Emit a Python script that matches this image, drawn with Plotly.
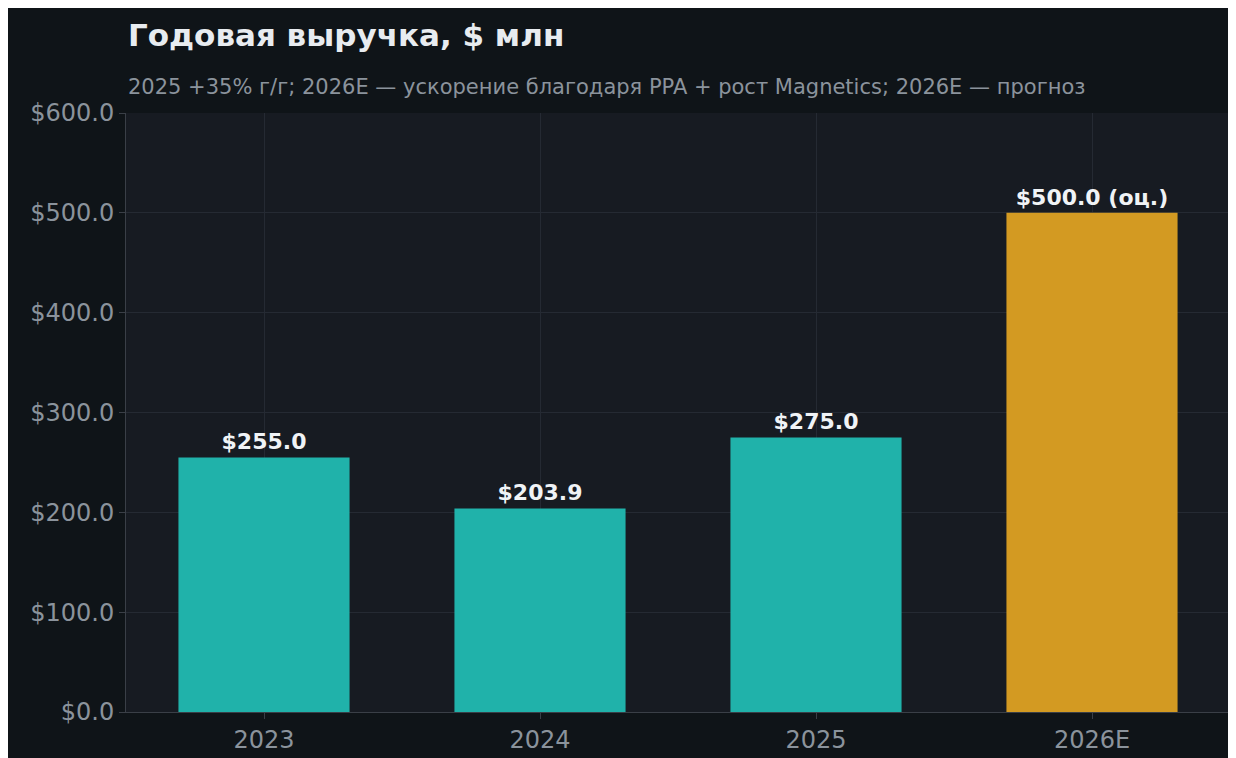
import plotly.graph_objects as go

years = ["2023", "2024", "2025", "2026E"]
revenue = [255.0, 203.9, 275.0, 500.0]
labels = ["<b>$255.0</b>", "<b>$203.9</b>", "<b>$275.0</b>", "<b>$500.0 (оц.)</b>"]
colors = ["#20b2aa", "#20b2aa", "#20b2aa", "#d39a22"]

fig = go.Figure(go.Bar(
    x=years, y=revenue, text=labels, textposition="outside",
    marker=dict(color=colors, line=dict(width=0)), width=0.62,
    textfont=dict(color="#f0f3f6", size=22, family="DejaVu Sans"),
    cliponaxis=False,
))

fig.update_layout(
    width=1236, height=758,
    margin=dict(l=118, r=14, t=105, b=52),
    paper_bgcolor="#0f1418", plot_bgcolor="#171b22",
    font=dict(family="DejaVu Sans", color="#8b939c"),
    showlegend=False,
    annotations=[
        dict(text="<b>Годовая выручка, $ млн</b>", xref="paper", yref="paper",
             x=0, y=1, xanchor="left", yanchor="bottom", yshift=58,
             showarrow=False, font=dict(size=31, color="#e8ecf0")),
        dict(text="2025 +35% г/г; 2026E — ускорение благодаря PPA + рост Magnetics; 2026E — прогноз",
             xref="paper", yref="paper", x=0, y=1, xanchor="left", yanchor="bottom",
             yshift=12, showarrow=False, font=dict(size=21, color="#8b939c")),
    ],
)
fig.update_yaxes(range=[0, 600], dtick=100, tickprefix="$", tickformat=".1f",
                 gridcolor="#252a33", showline=True, linecolor="#3a3f47",
                 ticks="outside", ticklen=6, tickcolor="#3a3f47",
                 tickfont=dict(size=24, color="#8b939c"), zeroline=False)
fig.update_xaxes(gridcolor="#252a33", showgrid=True, showline=True, linecolor="#3a3f47",
                 ticks="outside", ticklen=6, tickcolor="#3a3f47",
                 tickfont=dict(size=24, color="#8b939c"))

fig.write_html("out.html")
